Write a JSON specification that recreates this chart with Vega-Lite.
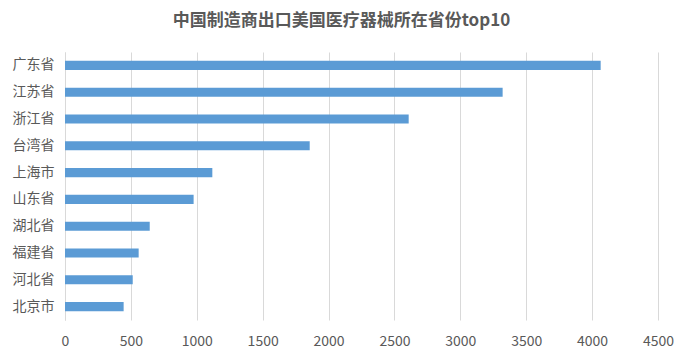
{
  "$schema": "https://vega.github.io/schema/vega-lite/v6.json",
  "autosize": {"type": "none"},
  "padding": {"left": 65, "top": 52, "right": 24, "bottom": 43},
  "width": 593,
  "height": 268,
  "background": "white",
  "title": {
    "text": "中国制造商出口美国医疗器械所在省份top10",
    "font": "Noto Sans CJK SC",
    "fontSize": 17,
    "fontWeight": "bold",
    "color": "#595959",
    "anchor": "middle",
    "dx": -20,
    "offset": 22
  },
  "data": {
    "values": [
      {"province": "广东省", "count": 4065},
      {"province": "江苏省", "count": 3321},
      {"province": "浙江省", "count": 2608},
      {"province": "台湾省", "count": 1857},
      {"province": "上海市", "count": 1118},
      {"province": "山东省", "count": 976},
      {"province": "湖北省", "count": 643},
      {"province": "福建省", "count": 559},
      {"province": "河北省", "count": 514},
      {"province": "北京市", "count": 445}
    ]
  },
  "config": {
    "view": {"stroke": null},
    "axis": {"labelFont": "Noto Sans CJK SC", "labelColor": "#595959", "labelFontSize": 14}
  },
  "mark": {"type": "bar", "color": "#5b9bd5"},
  "encoding": {
    "y": {
      "field": "province",
      "type": "nominal",
      "sort": null,
      "scale": {"paddingInner": 0.66, "paddingOuter": 0.33},
      "axis": {"title": null, "ticks": false, "domain": true, "domainColor": "#d9d9d9", "labelPadding": 11, "grid": false}
    },
    "x": {
      "field": "count",
      "type": "quantitative",
      "scale": {"domain": [0, 4500], "nice": false},
      "axis": {"title": null, "format": "d", "values": [0,500,1000,1500,2000,2500,3000,3500,4000,4500], "ticks": false, "domain": false, "grid": true, "gridColor": "#d9d9d9", "labelPadding": 14, "labelFlush": false}
    }
  }
}
